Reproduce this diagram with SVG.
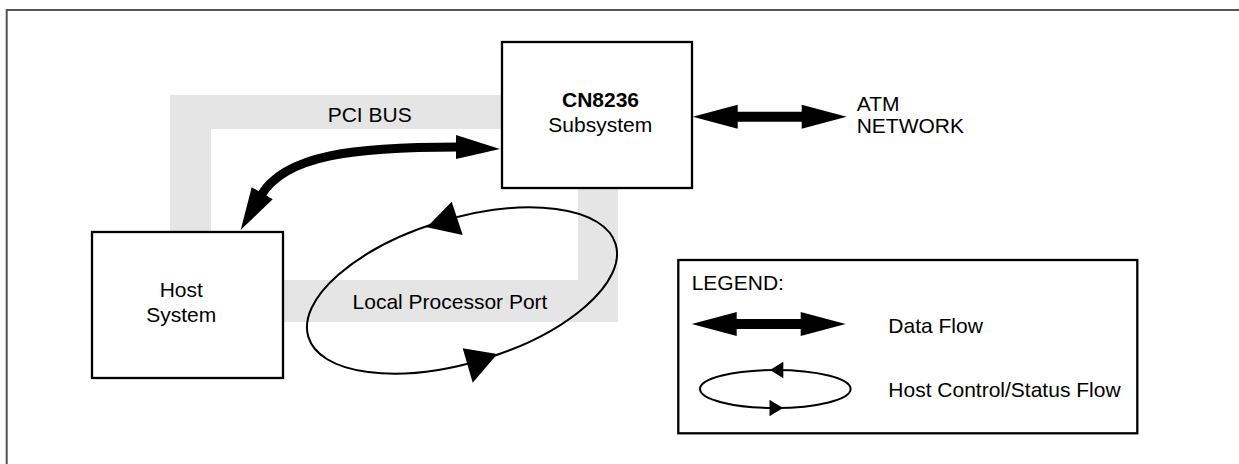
<svg xmlns="http://www.w3.org/2000/svg" width="1239" height="464" viewBox="0 0 1239 464">
  <style>
    text { font-family: "Liberation Sans", Arial, sans-serif; font-size: 21px; fill: #000; }
    .bold { font-weight: bold; }
    .box { fill: #fff; stroke: #000; stroke-width: 2.3; }
    .line { fill: none; stroke: #000; stroke-width: 2; }
    .head { fill: #000; stroke: none; }
  </style>
  <defs>
    <path id="dbl" d="M0,0 L45,-12 L45,-5 L109,-5 L109,-12 L154,0 L109,12 L109,5 L45,5 L45,12 Z" fill="#000"/>
  </defs>

  <rect id="frame" x="6.7" y="10" width="1250" height="470" fill="none" stroke="#555" stroke-width="2"/>

  <g id="pci-bus">
    <path d="M170,95 H618 V322 H170 Z M211,129 V280 H578 V129 Z" fill="#e5e5e5" fill-rule="evenodd"/>
    <text x="369.7" y="121.5" text-anchor="middle">PCI BUS</text>
    <text x="450" y="309.3" text-anchor="middle">Local Processor Port</text>
  </g>

  <g id="node-cn8236">
    <rect class="box" x="502" y="42" width="190" height="146"/>
    <text class="bold" x="600.5" y="107.3" text-anchor="middle">CN8236</text>
    <text x="600.3" y="131.7" text-anchor="middle">Subsystem</text>
  </g>

  <g id="node-host">
    <rect class="box" x="92" y="232" width="191" height="146"/>
    <text x="181.3" y="297.3" text-anchor="middle">Host</text>
    <text x="181.3" y="321.7" text-anchor="middle">System</text>
  </g>

  <g id="node-atm">
    <text x="856.7" y="110.8">ATM</text>
    <text x="856.7" y="132.5">NETWORK</text>
  </g>

  <g id="connectors">
    <!-- PCI data flow curved double arrow -->
    <path d="M260.7,195.9 C284.7,154.2 356,147 458,147" fill="none" stroke="#000" stroke-width="9"/>
    <polygon class="head" points="500,149 456,135 456,159"/>
    <polygon class="head" points="240.7,230 251.7,187.3 272.7,199.3"/>
    <!-- ATM data flow -->
    <use href="#dbl" x="692.7" y="116.7"/>
    <!-- Local processor port control loop -->
    <ellipse class="line" cx="462" cy="290.5" rx="160.5" ry="72" transform="rotate(-16.8 462 290.5)"/>
    <polygon class="head" points="426.7,227.3 451.7,201.7 462.7,235"/>
    <polygon class="head" points="497.3,354 462.7,348.3 472.7,382.7"/>
  </g>

  <g id="legend">
    <rect class="box" x="678.3" y="260" width="459" height="173.3"/>
    <text x="691.7" y="290">LEGEND:</text>
    <use href="#dbl" x="691.7" y="324"/>
    <text x="888.3" y="333.3">Data Flow</text>
    <ellipse class="line" cx="775.3" cy="389" rx="75.3" ry="19"/>
    <polygon class="head" points="770,370 783.3,361.7 783.3,378.3"/>
    <polygon class="head" points="783,408 769.5,399.7 769.5,416.3"/>
    <text x="888.3" y="396.7">Host Control/Status Flow</text>
  </g>
</svg>
